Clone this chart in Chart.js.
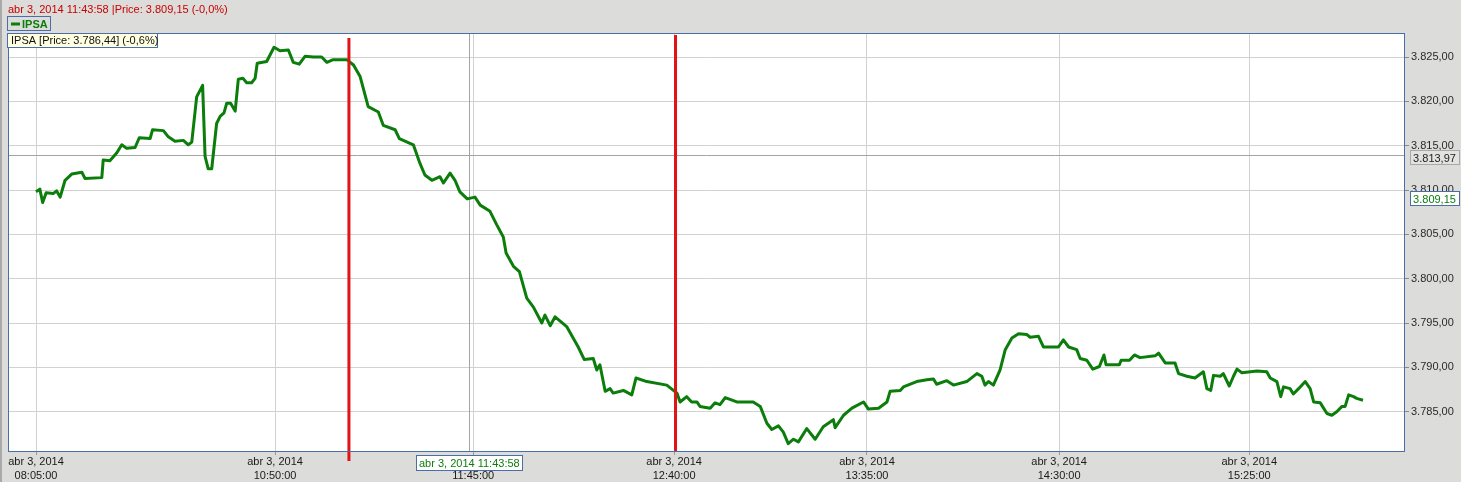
<!DOCTYPE html>
<html>
<head>
<meta charset="utf-8">
<script src="https://cdn.jsdelivr.net/npm/chart.js@4.4.1/dist/chart.umd.min.js"></script>
<style>
	html, body { margin: 0; padding: 0; background: #dcdcda; overflow: hidden; }
	canvas { display: block; }
</style>
</head>
<body>
<canvas id="ipsa-chart" width="1461" height="482"></canvas>
<script>
"use strict";

// sample position along the (gap-free) session axis, and IPSA price
const sampleIdx = [0,1.1,1.9,2.9,4.9,5.9,6.9,8.3,10.2,13.1,14.0,18.8,19.2,21.1,23.1,24.5,25.9,28.3,29.5,32.6,33.3,36.4,37.8,39.7,42.1,43.5,44.5,45.9,47.6,48.3,49.2,50.2,51.6,52.6,53.7,54.5,55.6,56.9,57.8,59.1,60.2,61.6,62.6,63.2,65.9,68.0,69.7,72.1,73.5,75.2,76.9,79.2,81.6,83.1,84.9,88.8,90.7,92.6,94.9,97.8,99.2,102.6,103.8,107.8,109.7,111.1,113.1,115.4,116.4,118.3,119.7,121.1,123.2,125.4,126.9,129.7,131.6,133.5,134.3,136.4,138.1,140.2,142.1,144.5,145.4,146.9,148.3,151.6,154.9,156.6,159.2,160.2,161.1,162.6,164.0,164.9,167.8,170.2,171.4,174.5,180.2,183.1,184.0,185.9,187.3,188.8,189.7,192.6,194.0,195.4,196.9,200.2,204.9,206.9,208.8,210.2,212.1,213.5,214.9,216.4,217.8,220.2,222.6,224.9,227.8,228.3,230.7,233.1,236.4,237.8,240.7,243.1,244.0,246.9,247.8,251.6,254.5,256.4,257.3,260.2,262.1,265.9,268.8,270.2,271.1,272.1,273.5,275.4,276.9,278.8,280.7,283.1,284.0,286.4,287.8,292.1,293.5,295.0,297.3,298.3,300.2,301.9,303.8,305.1,305.7,309.5,310.0,312.4,313.8,315.4,319.7,320.7,322.6,325.4,326.4,328.8,331.1,333.5,334.5,335.6,336.4,338.3,339.2,340.9,342.1,343.1,344.5,348.8,351.6,352.6,354.5,355.6,356.4,358.3,359.2,360.7,362.6,364.0,365.0,366.9,368.8,370.2,371.6,373.1,374.0,375.0,376.4,377.3,379.1];
const prices = [3809.8,3810.1,3808.6,3809.7,3809.6,3809.9,3809.2,3811.1,3811.8,3812.0,3811.3,3811.4,3813.4,3813.3,3814.2,3815.1,3814.7,3814.8,3815.9,3815.8,3816.8,3816.7,3816.0,3815.5,3815.6,3815.1,3815.4,3820.5,3821.8,3813.8,3812.4,3812.4,3817.5,3818.3,3818.7,3819.8,3819.8,3818.9,3822.5,3822.6,3822.1,3822.1,3822.6,3824.3,3824.5,3826.1,3825.7,3825.8,3824.4,3824.2,3825.1,3825.0,3825.0,3824.4,3824.7,3824.7,3824.1,3822.8,3819.4,3818.8,3817.3,3816.8,3815.8,3815.1,3813.0,3811.7,3811.1,3811.5,3810.8,3811.9,3811.1,3809.8,3809.0,3809.2,3808.3,3807.6,3806.1,3804.7,3802.9,3801.4,3800.8,3797.8,3796.8,3795.0,3795.9,3794.7,3795.7,3794.6,3792.3,3790.9,3791.0,3789.7,3790.3,3787.3,3787.6,3787.1,3787.4,3786.9,3788.8,3788.4,3788.0,3787.1,3786.1,3786.7,3786.1,3786.1,3785.6,3785.4,3786.0,3785.8,3786.6,3786.1,3786.1,3785.6,3783.7,3783.0,3783.4,3782.7,3781.4,3781.9,3781.6,3783.1,3781.9,3783.3,3784.1,3783.2,3784.6,3785.4,3786.1,3785.3,3785.4,3786.1,3787.3,3787.4,3787.8,3788.4,3788.6,3788.7,3788.1,3788.5,3788.0,3788.4,3789.3,3789.0,3788.0,3788.4,3788.0,3789.7,3792.0,3793.3,3793.8,3793.7,3793.4,3793.5,3792.3,3792.3,3793.1,3792.3,3792.0,3791.0,3790.8,3789.8,3790.1,3791.4,3790.3,3790.3,3790.8,3790.8,3791.4,3791.1,3791.3,3791.6,3790.5,3790.5,3789.3,3789.0,3788.8,3789.5,3787.6,3787.4,3789.1,3789.0,3789.3,3787.9,3789.0,3789.8,3789.4,3789.6,3789.5,3788.8,3788.4,3786.7,3787.8,3787.6,3787.0,3787.6,3788.4,3787.6,3786.1,3786.0,3784.8,3784.6,3785.0,3785.6,3785.6,3786.9,3786.7,3786.5,3786.3];

const dateLabel = 'abr 3, 2014';
const xTickIdx = [0, 68.3, 124.9, 182.3, 237.4, 292.3, 346.6];
const xTickTimes = ['08:05:00', '10:50:00', '11:45:00', '12:40:00', '13:35:00', '14:30:00', '15:25:00'];
const yTicks = [3785, 3790, 3795, 3800, 3805, 3810, 3815, 3820, 3825];

const markerIdx = [89.4, 182.7];
const cursorIdx = 123.8;
const cursorTime = '11:43:58';
const cursorLevel = 3813.97;
const cursorPrice = 3809.15;
const cursorChange = '-0,0%';
const lastPrice = 3786.44;
const lastChange = '-0,6%';

const FONT = '"Liberation Sans", Arial, sans-serif';
const GREEN = '#0b7d0b';
const BLUE = '#4a6fa8';

function fmt(v) {
	const [i, d] = v.toFixed(2).split('.');
	return i.replace(/\B(?=(\d{3})+(?!\d))/g, '.') + ',' + d;
}

function box(ctx, cx, cy, w, h, text, fill, stroke, color) {
	const x = Math.round(cx - w / 2) + 0.5;
	const y = Math.round(cy - h / 2) + 0.5;
	ctx.fillStyle = fill;
	ctx.fillRect(x, y, w, h);
	ctx.strokeStyle = stroke;
	ctx.lineWidth = 1;
	ctx.strokeRect(x, y, w, h);
	ctx.fillStyle = color;
	ctx.textAlign = 'center';
	ctx.textBaseline = 'middle';
	ctx.fillText(text, cx, y + h / 2 + 1);
}

const decorations = {
	id: 'decorations',
	beforeDraw(chart) {
		const {ctx, chartArea: a} = chart;
		ctx.save();
		ctx.fillStyle = '#dcdcda';
		ctx.fillRect(0, 0, chart.width, chart.height);
		ctx.fillStyle = '#a9a9a9';
		ctx.fillRect(0, 0, 2, chart.height);
		ctx.fillStyle = '#ffffff';
		ctx.fillRect(a.left, a.top, a.right - a.left, a.bottom - a.top);
		ctx.restore();
	},
	beforeDatasetsDraw(chart) {
		const {ctx, chartArea: a, scales} = chart;
		const cx = Math.round(scales.x.getPixelForValue(cursorIdx)) + 0.5;
		const cy = Math.round(scales.y.getPixelForValue(cursorLevel)) + 0.5;
		ctx.save();
		ctx.strokeStyle = '#a4a4a4';
		ctx.lineWidth = 1;
		ctx.beginPath();
		ctx.moveTo(cx, a.top);
		ctx.lineTo(cx, a.bottom);
		ctx.moveTo(a.left, cy);
		ctx.lineTo(a.right, cy);
		ctx.stroke();
		ctx.restore();
	},
	afterDatasetsDraw(chart) {
		const {ctx, chartArea: a, scales} = chart;
		const ext = [[a.top + 5, a.bottom + 10], [a.top + 2, a.bottom]];
		ctx.save();
		ctx.strokeStyle = '#e01414';
		ctx.lineWidth = 3;
		markerIdx.forEach((m, i) => {
			const x = scales.x.getPixelForValue(m);
			ctx.beginPath();
			ctx.moveTo(x, ext[i][0]);
			ctx.lineTo(x, ext[i][1]);
			ctx.stroke();
		});
		ctx.restore();
	},
	afterDraw(chart) {
		const {ctx, chartArea: a, scales} = chart;
		ctx.save();
		ctx.strokeStyle = BLUE;
		ctx.lineWidth = 1;
		ctx.strokeRect(a.left + 0.5, a.top + 0.5, a.right - a.left - 1, a.bottom - a.top);

		ctx.font = '11px ' + FONT;
		ctx.textAlign = 'left';
		ctx.textBaseline = 'alphabetic';
		ctx.fillStyle = '#c80000';
		ctx.fillText(`${dateLabel} ${cursorTime} |Price: ${fmt(cursorPrice)} (${cursorChange})`, 8, 13);

		// legend
		ctx.strokeStyle = BLUE;
		ctx.strokeRect(7.5, 16.5, 43, 14);
		ctx.strokeStyle = GREEN;
		ctx.lineWidth = 3;
		ctx.beginPath();
		ctx.moveTo(11, 24);
		ctx.lineTo(20, 24);
		ctx.stroke();
		ctx.fillStyle = GREEN;
		ctx.font = 'bold 11px ' + FONT;
		ctx.fillText('IPSA', 22, 28);

		// last price box
		ctx.font = '11px ' + FONT;
		ctx.fillStyle = '#ffffe1';
		ctx.fillRect(7.5, 33.5, 150, 14);
		ctx.lineWidth = 1;
		ctx.strokeStyle = BLUE;
		ctx.strokeRect(7.5, 33.5, 150, 14);
		ctx.fillStyle = '#111';
		ctx.fillText(`IPSA [Price: ${fmt(lastPrice)}] (${lastChange})`, 11, 44);

		// axis value boxes
		const yl = scales.y.getPixelForValue(cursorLevel);
		box(ctx, 1434.5, yl + 2, 49, 14, fmt(cursorLevel), '#e2e2e0', '#a8a8a8', '#222');
		const yp = scales.y.getPixelForValue(cursorPrice);
		box(ctx, 1434.5, yp, 49, 14, fmt(cursorPrice), '#ffffff', BLUE, GREEN);
		const xc = scales.x.getPixelForValue(cursorIdx);
		box(ctx, xc, 462, 106, 15, `${dateLabel} ${cursorTime}`, '#ffffff', BLUE, GREEN);
		ctx.restore();
	}
};

const ctx = document.querySelector('#ipsa-chart').getContext('2d');
new Chart(ctx, {
	type: 'line',
	data: {
		datasets: [{
			label: 'IPSA',
			data: sampleIdx.map((x, i) => ({x: x, y: prices[i]})),
			borderColor: GREEN,
			borderWidth: 3,
			borderJoinStyle: 'round',
			pointRadius: 0,
			tension: 0,
			fill: false
		}]
	},
	options: {
		responsive: false,
		animation: false,
		layout: {padding: {left: 8, top: 33, right: 0, bottom: 0}},
		plugins: {
			legend: {display: false},
			tooltip: {enabled: false}
		},
		scales: {
			x: {
				type: 'linear',
				min: -8,
				max: 391.1,
				afterBuildTicks: scale => { scale.ticks = xTickIdx.map(v => ({value: v})); },
				afterFit: scale => { scale.height = 31; },
				grid: {color: '#d2d2d2', tickColor: '#9a9a9a', tickLength: 4},
				border: {display: false},
				ticks: {
					autoSkip: false,
					maxRotation: 0,
					padding: 0,
					color: '#1a1a1a',
					font: {family: FONT, size: 11, lineHeight: 1.27},
					callback: (v, i) => [dateLabel, xTickTimes[i]]
				}
			},
			y: {
				position: 'right',
				min: 3780.57,
				max: 3827.71,
				afterBuildTicks: scale => { scale.ticks = yTicks.map(v => ({value: v})); },
				afterFit: scale => { scale.width = 56; },
				grid: {color: '#d2d2d2', tickColor: '#8a8a8a', tickLength: 4},
				border: {display: false},
				ticks: {
					padding: 2,
					color: '#2a2a2a',
					font: {family: FONT, size: 11},
					callback: v => fmt(v)
				}
			}
		}
	},
	plugins: [decorations]
});
</script>
</body>
</html>
